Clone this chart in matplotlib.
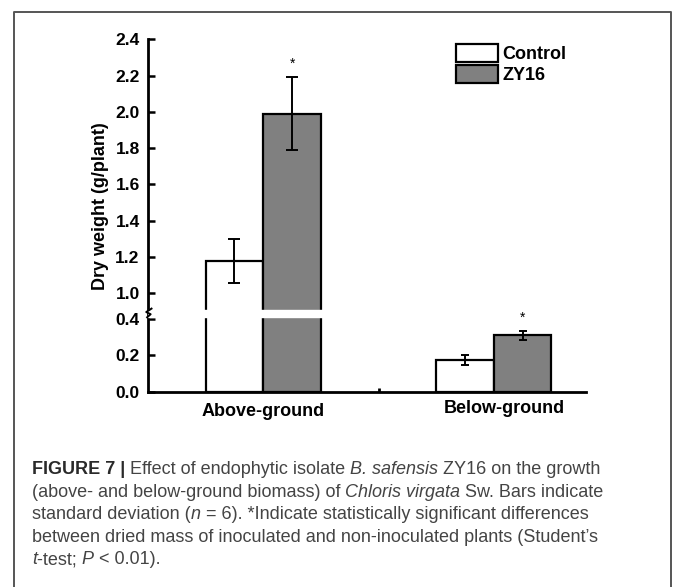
import numpy as np
import matplotlib
matplotlib.use('Agg')
import matplotlib.pyplot as plt
from matplotlib.lines import Line2D
from matplotlib.transforms import ScaledTranslation, blended_transform_factory

# Datos
grupos = ['Above-ground', 'Below-ground']
series = ['Control', 'ZY16']
control = [1.18, 0.175]
control_sd = [0.12, 0.027]
zy16 = [1.99, 0.31]
zy16_sd = [0.20, 0.023]
significativo = [True, True]
yticks = [0.0, 0.2, 0.4, 1.0, 1.2, 1.4, 1.6, 1.8, 2.0, 2.2, 2.4]

# Eje y cortado: entre 0.42 y 0.95 la escala se comprime
corte_real = [-1.0, 0.42, 0.95, 3.0]
corte_vista = [-1.0, 0.42, 0.4916, 2.5416]

def adelante(v):
    return np.interp(v, corte_real, corte_vista)

def atras(v):
    return np.interp(v, corte_vista, corte_real)

W, H = 673, 587
plt.rcParams['font.family'] = ['Liberation Sans', 'DejaVu Sans']
fig = plt.figure(figsize=(W / 100, H / 100), dpi=100)
ax = fig.add_axes([148 / W, 1 - 391.7 / H, 438 / W, 352.4 / H])
ax.set_yscale('function', functions=(adelante, atras))

x = np.arange(len(grupos))
ancho = 0.25
ax.bar(x - ancho / 2, control, ancho, color='white', edgecolor='black', linewidth=1.6, label=series[0], zorder=2)
ax.bar(x + ancho / 2, zy16, ancho, color='#808080', edgecolor='black', linewidth=1.6, label=series[1], zorder=2)

# Barras de error (tapas mas anchas en el primer grupo)
tapas = [4.3, 2.9]
for i in range(len(grupos)):
    ax.errorbar([x[i] - ancho / 2, x[i] + ancho / 2], [control[i], zy16[i]],
                yerr=[control_sd[i], zy16_sd[i]], fmt='none', ecolor='black',
                elinewidth=1.4, capsize=tapas[i], capthick=1.4, zorder=3)
    if significativo[i]:
        ax.annotate('*', xy=(x[i] + ancho / 2, zy16[i] + zy16_sd[i]), xytext=(0, 10),
                    textcoords='offset points', ha='center', va='center',
                    fontsize=10, zorder=6)

ax.set_xlim(-0.5, 1.4)
ax.set_ylim(0, 2.4)

# Hueco blanco del corte sobre las barras y el eje
ax.axhspan(0.41, 0.66, xmin=0, xmax=0.5, color='white', zorder=4)
trans = blended_transform_factory(ax.transAxes, ax.transData)
ax.add_line(Line2D([0.008, -0.004, 0.006, -0.002], [0.70, 0.56, 0.47, 0.41], transform=trans,
                   color='black', linewidth=1.4, clip_on=False, zorder=5))

for lado in ['top', 'right']:
    ax.spines[lado].set_visible(False)
for lado in ['left', 'bottom']:
    ax.spines[lado].set_linewidth(2)

ax.set_yticks(yticks)
ax.set_yticklabels(['%.1f' % v for v in yticks], fontsize=12.5, fontweight='bold')
ax.tick_params(axis='y', direction='in', length=5, width=1.8, pad=6)
ax.yaxis.set_minor_locator(plt.NullLocator())

ax.set_xticks(x)
ax.set_xticklabels(grupos, fontsize=13, fontweight='bold')
ax.tick_params(axis='x', which='major', length=0, pad=8)
ax.set_xticks([0.5], minor=True)
ax.tick_params(axis='x', which='minor', direction='in', length=3, width=2)
etiquetas = ax.get_xticklabels()
etiquetas[1].set_transform(etiquetas[1].get_transform() + ScaledTranslation(11 / 100, 3 / 100, fig.dpi_scale_trans))

ax.set_ylabel('Dry weight (g/plant)', fontsize=13, fontweight='bold')
ax.yaxis.set_label_coords(-0.09, 0.527)

ax.legend(loc='upper left', bbox_to_anchor=(456 / W, 1 - 44 / H), bbox_transform=fig.transFigure,
          frameon=False, borderpad=0, borderaxespad=0, handlelength=2.3, handleheight=1.15,
          labelspacing=0.12, handletextpad=0.25, prop={'weight': 'bold', 'size': 13})

# Marco de la figura
fig.add_artist(Line2D(np.array([14, 14, 671, 671]) / W, 1 - np.array([587, 12, 12, 587]) / H,
                      transform=fig.transFigure, color='#555555', linewidth=1.4))

# Pie de figura con partes en negrita y cursiva
renderer = fig.canvas.get_renderer()
estilos = {
    'b': dict(family=['Liberation Sans', 'DejaVu Sans'], weight='bold', fontsize=13, color='#2a2a2a'),
    'n': dict(family=['Liberation Sans', 'DejaVu Sans'], fontsize=13, color='#444444'),
    'i': dict(family=['Liberation Sans', 'DejaVu Sans'], style='italic', fontsize=13, color='#444444'),
}

def ancho_texto(s, kw):
    t1 = fig.text(0, 0, '|' + s + '|', **kw)
    t2 = fig.text(0, 0, '||', **kw)
    w = t1.get_window_extent(renderer).width - t2.get_window_extent(renderer).width
    t1.remove()
    t2.remove()
    return w

def escribir_linea(x_px, base_px, partes):
    for s, e in partes:
        fig.text(x_px / W, 1 - base_px / H, s, ha='left', va='baseline', **estilos[e])
        x_px += ancho_texto(s, estilos[e])

lineas = [
    [('FIGURE 7 |', 'b'), (' Effect of endophytic isolate ', 'n'), ('B. safensis', 'i'), (' ZY16 on the growth', 'n')],
    [('(above- and below-ground biomass) of ', 'n'), ('Chloris virgata', 'i'), (' Sw. Bars indicate', 'n')],
    [('standard deviation (', 'n'), ('n', 'i'), (' = 6). *Indicate statistically significant differences', 'n')],
    [('between dried mass of inoculated and non-inoculated plants (Student\u2019s', 'n')],
    [('t', 'i'), ('-test; ', 'n'), ('P', 'i'), (' < 0.01).', 'n')],
]
for k, partes in enumerate(lineas):
    escribir_linea(32, 474 + 22.6 * k, partes)

fig.savefig('out.png', dpi=100)
